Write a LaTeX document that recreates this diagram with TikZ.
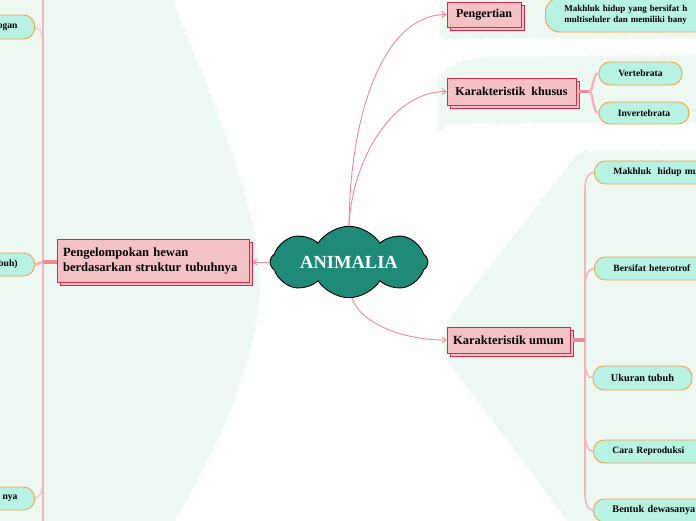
\documentclass[tikz,border=0pt]{standalone}
\usepackage{fontspec}
\setmainfont{Liberation Serif}
\usetikzlibrary{shapes.symbols,arrows.meta,decorations.pathmorphing,shadows}
\definecolor{bgmint}{HTML}{EEF8F3}
\definecolor{boxpink}{HTML}{F4C2C4}
\definecolor{boxred}{HTML}{D42A48}
\definecolor{leafmint}{HTML}{B8F2E2}
\definecolor{leaforange}{HTML}{F2A243}
\definecolor{linkpink}{HTML}{F08898}
\definecolor{spinepink}{HTML}{F4B4BE}
\definecolor{cloudteal}{HTML}{1F8A78}
\begin{document}
\begin{tikzpicture}[x=1pt,y=-1pt,
  wavy/.style={fill=bgmint, decorate, decoration={snake, amplitude=1.2pt, segment length=9pt}},
  topic/.style={draw=boxred, fill=boxpink, line width=0.8pt, text=black,
    font=\bfseries\fontsize{12}{14}\selectfont, inner sep=0pt,
    copy shadow={shadow xshift=3pt, shadow yshift=-3pt, draw=boxred, fill=boxpink, line width=0.8pt}},
  leaf/.style={draw=leaforange, fill=leafmint, line width=0.9pt, rounded corners=11pt, text=black,
    font=\bfseries\fontsize{9.6}{11.5}\selectfont, inner sep=0pt},
  link/.style={draw=linkpink, line width=0.9pt},
  arr/.style={link, -{Straight Barb[length=4pt,width=6pt]}},
  stub/.style={draw=linkpink, line width=3.5pt},
  fork/.style={draw=spinepink, line width=2.5pt},
  spine/.style={draw=spinepink, line width=1.6pt}]
\useasboundingbox (0,0) rectangle (696,520);
% background regions
\path[wavy] (-10,-10) -- (166,-10) .. controls (195,70) and (255,190) .. (257,285) .. controls (252,380) and (200,470) .. (166,530) -- (-10,530) -- cycle;
\path[wavy] (440,-10) -- (440,34) -- (710,33) -- (710,-10) -- cycle;
\path[wavy] (438,130) -- (438,80) .. controls (450,66) and (465,61) .. (490,60) -- (710,58) -- (710,129) -- cycle;
\path[wavy] (583,151) -- (710,151) -- (710,530) -- (574,530) -- (448,362) .. controls (442,345) and (444,330) .. (455,315) -- cycle;

% spines
\draw[spine] (43,-5) -- (43,525);
\draw[spine] (585,190) -- (585,495);

% central cloud
\node[cloud, cloud puffs=8, cloud puff arc=115, aspect=3, draw=black, line width=0.9pt, fill=cloudteal,
  minimum width=158pt, minimum height=54pt, inner sep=0pt, text=white,
  font=\bfseries\fontsize{18.5}{21}\selectfont] (root) at (349,262) {ANIMALIA};

% main topics
\node[topic, minimum width=192pt, minimum height=43pt, text width=180pt, align=left,
  font=\bfseries\fontsize{12.6}{15}\selectfont] (peng) at (153,260.5)
  {Pengelompokan hewan\\berdasarkan struktur tubuhnya};
\node[topic, minimum width=74pt, minimum height=25pt] (def) at (484,14.5) {Pengertian};
\node[topic, minimum width=129pt, minimum height=27pt] (khusus) at (511.5,91.5) {Karakteristik\ \ khusus};
\node[topic, minimum width=123pt, minimum height=26pt, font=\bfseries\fontsize{12.5}{15}\selectfont] (umum) at (508.5,340) {Karakteristik umum};

% leaves on the left (cut by the page edge)
\node[leaf, anchor=east, minimum height=24pt, text width=100pt, align=right, inner xsep=17pt] (l1) at (35,27) {ogan};
\node[leaf, anchor=east, minimum height=23pt, text width=100pt, align=right, inner xsep=17pt] (l2) at (35,264.5) {buh)};
\node[leaf, anchor=east, minimum height=23pt, text width=100pt, align=right, inner xsep=17pt] (l3) at (35,498.5) {nya};

% leaves on the right
\node[leaf, anchor=west, minimum height=34pt, text width=170pt, align=left, inner xsep=19pt, rounded corners=14pt,
  font=\bfseries\fontsize{9}{11.5}\selectfont] (defl) at (545,15)
  {Makhluk hidup yang bersifat h\\multiseluler dan memiliki bany};
\node[leaf, minimum width=83pt, minimum height=23pt] (vert) at (640.5,73.5) {Vertebrata};
\node[leaf, minimum width=90pt, minimum height=22pt] (invert) at (644,113) {Invertebrata};
\node[leaf, anchor=west, minimum height=23pt, text width=120pt, align=left, inner xsep=19pt] (u1) at (594,172.5) {Makhluk\ \ hidup mu};
\node[leaf, anchor=west, minimum height=23pt, text width=120pt, align=left, inner xsep=19pt] (u2) at (594,268.5) {Bersifat heterotrof};
\node[leaf, minimum width=99pt, minimum height=24pt, font=\bfseries\fontsize{10.3}{12}\selectfont] (u3) at (642.5,378) {Ukuran tubuh};
\node[leaf, anchor=west, minimum height=23pt, text width=120pt, align=left, inner xsep=19pt] (u4) at (593,451.5) {Cara Reproduksi};
\node[leaf, anchor=west, minimum height=23pt, text width=120pt, align=left, inner xsep=19pt,
  font=\bfseries\fontsize{10.2}{12}\selectfont] (u5) at (593,510.5) {Bentuk dewasanya};

% connectors from the root
\draw[arr] (root.west) -- ([xshift=3pt]peng.east |- root.west);
\draw[arr] (root.north) .. controls (350,110) and (385,14.5) .. (def.west);
\draw[arr] (root.north) .. controls (352,160) and (392,91.5) .. (khusus.west);
\draw[arr] ([xshift=3pt]root.south) .. controls (360,322) and (400,340) .. (umum.west);

% left branch
\coordinate (ls) at (43,262);
\draw[stub] (peng.west |- ls) -- (ls);
\draw[fork] (l2.east) .. controls (39,264) and (40,262) .. (ls);
\draw[spine, opacity=0.6] (l1.east) .. controls (41,28) and (43,36) .. (43,50);
\draw[spine, opacity=0.6] (l3.east) .. controls (41,497) and (43,490) .. (43,478);

% Karakteristik khusus fork
\coordinate (kf) at (589,91.5);
\draw[stub] ([xshift=3pt]khusus.east) -- (kf);
\draw[fork] (kf) .. controls (594,91) and (592,73.5) .. (vert.west);
\draw[fork] (kf) .. controls (594,92) and (592,113) .. (invert.west);

% Karakteristik umum spine
\coordinate (us) at (585,340);
\draw[stub] ([xshift=3pt]umum.east) -- (us);
\draw[spine] (u1.west) .. controls (587,173) and (585,180) .. (585,190);
\draw[spine] (u2.west) .. controls (587,269) and (585,278) .. (585,290);
\draw[spine] (u3.west) .. controls (587,378) and (585,370) .. (585,360);
\draw[spine] (u4.west) .. controls (587,451) and (585,442) .. (585,432);
\draw[spine] (u5.west) .. controls (587,510) and (585,502) .. (585,492);
\end{tikzpicture}
\end{document}
